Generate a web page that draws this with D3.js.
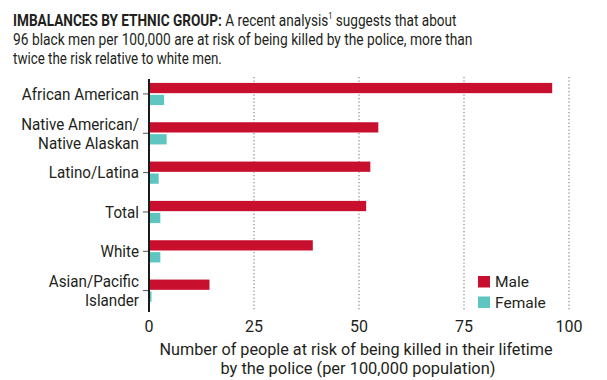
<!DOCTYPE html>
<html>
<head>
<meta charset="utf-8">
<script src="https://cdn.jsdelivr.net/npm/d3@7"></script>
<style>
  body { margin: 0; background: #fff; }
  text { font-family: "Roboto", "Liberation Sans", sans-serif; fill: #231f20; }
</style>
</head>
<body>
<svg width="607" height="380"></svg>
<script>
// data
var groups = ["African American", "Native American/\nNative Alaskan", "Latino/Latina", "Total", "White", "Asian/Pacific\nIslander"];
var male = [96, 54.6, 52.7, 51.7, 39, 14.4];
var female = [3.6, 4.2, 2.3, 2.7, 2.7, 0.6];
var series = ["Male", "Female"];
var xTicks = [0, 25, 50, 75, 100];

var colors = { Male: "#c8102e", Female: "#5ec5c0" };

var svg = d3.select("svg");

// squeeze a text line horizontally to a target width (source font is condensed)
function fit(sel, x0, w) {
    var n = sel.node().getComputedTextLength();
    sel.attr("transform", "translate(" + x0 + ",0) scale(" + (w / n) + ",1)");
}

// title block
var t1 = svg.append("text").attr("x", 0).attr("y", 26).style("font-size", "16.5px");
t1.append("tspan").style("font-weight", "bold").text("IMBALANCES BY ETHNIC GROUP:");
t1.append("tspan").text(" A recent analysis");
t1.append("tspan").attr("dy", -6.5).style("font-size", "9px").text("1");
t1.append("tspan").attr("dy", 6.5).text(" suggests that about");
fit(t1, 13, 444);
var t2 = svg.append("text").attr("x", 0).attr("y", 45.5).style("font-size", "16.5px")
    .text("96 black men per 100,000 are at risk of being killed by the police, more than");
fit(t2, 13, 460);
var t3 = svg.append("text").attr("x", 0).attr("y", 64.5).style("font-size", "16.5px")
    .text("twice the risk relative to white men.");
fit(t3, 13, 209);

var x = d3.scaleLinear().domain([0, 100]).range([149, 569]);
var y = d3.scaleBand().domain(groups).range([74.3, 310.3]);
var y1 = d3.scaleBand().domain(series).range([8.6, 30.8]).paddingInner(0.14);

// dotted gridlines
svg.append("g").selectAll("line").data(xTicks.slice(1)).enter().append("line")
    .attr("x1", function(d) { return x(d); })
    .attr("x2", function(d) { return x(d); })
    .attr("y1", 77).attr("y2", 311)
    .attr("stroke", "#888").attr("stroke-width", 1.2)
    .attr("stroke-dasharray", "1.2,2.3");

// bars
var rows = svg.append("g").selectAll("g").data(groups).enter().append("g")
    .attr("transform", function(d) { return "translate(0," + y(d) + ")"; });

rows.selectAll("rect")
    .data(function(d, i) { return [{ k: "Male", v: male[i] }, { k: "Female", v: female[i] }]; })
    .enter().append("rect")
    .attr("x", x(0))
    .attr("y", function(d) { return y1(d.k); })
    .attr("height", y1.bandwidth())
    .attr("width", function(d) { return x(d.v) - x(0); })
    .attr("fill", function(d) { return colors[d.k]; });

// y axis line and ticks
svg.append("line").attr("x1", x(0)).attr("x2", x(0)).attr("y1", 79).attr("y2", 312)
    .attr("stroke", "#1a1a1a").attr("stroke-width", 2);

rows.append("line")
    .attr("x1", x(0) - 6).attr("x2", x(0))
    .attr("y1", y.bandwidth() / 2).attr("y2", y.bandwidth() / 2)
    .attr("stroke", "#555").attr("stroke-width", 1);

rows.each(function(d) {
    var lines = d.split("\n");
    var t = d3.select(this).append("text")
        .attr("text-anchor", "end")
        .attr("transform", "translate(139,0) scale(0.95,1)")
        .style("font-size", "16px");
    lines.forEach(function(s, j) {
        t.append("tspan")
            .attr("x", 0)
            .attr("y", y.bandwidth() / 2 + 5.8 + (j - (lines.length - 1) / 2) * 19)
            .text(s);
    });
});

// x tick labels
svg.append("g").selectAll("text").data(xTicks).enter().append("text")
    .attr("x", function(d) { return x(d); })
    .attr("y", 332)
    .attr("text-anchor", "middle")
    .style("font-size", "16px")
    .text(function(d) { return d; });

// axis title
svg.append("text").attr("x", 356).attr("y", 355).attr("text-anchor", "middle")
    .style("font-size", "16.5px").attr("textLength", 393).attr("lengthAdjust", "spacingAndGlyphs")
    .text("Number of people at risk of being killed in their lifetime");
svg.append("text").attr("x", 358).attr("y", 374).attr("text-anchor", "middle")
    .style("font-size", "16.5px").attr("textLength", 275).attr("lengthAdjust", "spacingAndGlyphs")
    .text("by the police (per 100,000 population)");

// legend
var legend = svg.append("g").selectAll("g").data(series).enter().append("g")
    .attr("transform", function(d, i) { return "translate(478," + (276 + i * 20.5) + ")"; });
legend.append("rect").attr("width", 12).attr("height", 11.5)
    .attr("fill", function(d) { return colors[d]; });
legend.append("text").attr("x", 17).attr("y", 11).style("font-size", "15.5px")
    .text(function(d) { return d; });
</script>
</body>
</html>
